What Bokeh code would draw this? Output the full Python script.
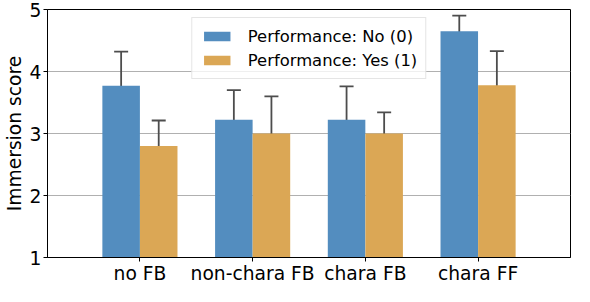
from bokeh.plotting import figure
from bokeh.models import ColumnDataSource, FactorRange, Whisker, TeeHead, Legend, LegendItem, FixedTicker
from bokeh.transform import dodge
from bokeh.embed import file_html
from bokeh.resources import INLINE

categories = ["no FB", "non-chara FB", "chara FB", "chara FF"]
perf_no = [3.77, 3.22, 3.22, 4.65]
perf_no_lower = [3.23, 2.73, 2.67, 4.40]
perf_no_upper = [4.32, 3.70, 3.76, 4.90]
perf_yes = [2.80, 3.00, 3.00, 3.78]
perf_yes_lower = [2.38, 2.39, 2.64, 3.25]
perf_yes_upper = [3.21, 3.60, 3.34, 4.33]
series_labels = ["Performance: No (0)", "Performance: Yes (1)"]
y_ticks = [1, 2, 3, 4, 5]

BLUE = "#538dbf"
ORANGE = "#dba755"
ERR = "#4d4d4d"
FONT = "DejaVu Sans"

src = ColumnDataSource(dict(cat=categories, no=perf_no, no_lo=perf_no_lower, no_hi=perf_no_upper,
                            yes=perf_yes, yes_lo=perf_yes_lower, yes_hi=perf_yes_upper))

p = figure(width=574, height=286, x_range=FactorRange(*categories, range_padding=0.32, range_padding_units="absolute"),
           y_range=(1, 5), output_backend="svg", toolbar_location=None,
           min_border_left=0, min_border_right=4, min_border_top=9, min_border_bottom=0)

r1 = p.vbar(x=dodge("cat", -0.1667, range=p.x_range), top="no", bottom=1, width=0.333, source=src,
            fill_color=BLUE, line_color=None)
r2 = p.vbar(x=dodge("cat", 0.1667, range=p.x_range), top="yes", bottom=1, width=0.333, source=src,
            fill_color=ORANGE, line_color=None)

for off, lo, hi in [(-0.1667, "no_lo", "no_hi"), (0.1667, "yes_lo", "yes_hi")]:
    w = Whisker(base=dodge("cat", off, range=p.x_range), lower=lo, upper=hi, source=src,
                line_color=ERR, line_width=1.8,
                upper_head=TeeHead(size=14, line_color=ERR, line_width=1.8),
                lower_head=TeeHead(size=14, line_color=ERR, line_width=1.8))
    p.add_layout(w)

p.xgrid.grid_line_color = None
p.ygrid.grid_line_color = "#b0b0b0"
p.ygrid.grid_line_width = 1
p.yaxis.ticker = FixedTicker(ticks=y_ticks)
p.yaxis.axis_label = "Immersion score"
p.yaxis.axis_label_text_font = FONT
p.yaxis.axis_label_text_font_style = "normal"
p.yaxis.axis_label_text_font_size = "18.7px"
p.yaxis.axis_label_text_color = "black"
p.yaxis.axis_label_standoff = 2
for ax in (p.xaxis, p.yaxis):
    ax.major_label_text_font = FONT
    ax.major_label_text_font_size = "18.7px"
    ax.major_label_text_color = "black"
    ax.axis_line_color = "black"
    ax.major_tick_line_color = "black"
    ax.major_tick_out = 4
    ax.major_tick_in = 0
    ax.minor_tick_line_color = None
p.yaxis.major_label_standoff = 2
p.xaxis.major_label_standoff = 1
p.xaxis.group_text_font_size = "0px"
p.outline_line_color = "black"
p.outline_line_width = 1
p.outline_line_alpha = 1

legend = Legend(items=[LegendItem(label=series_labels[0], renderers=[r1]),
                       LegendItem(label=series_labels[1], renderers=[r2])],
                location="top_center", margin=8, padding=8, spacing=4,
                glyph_width=33, glyph_height=12, label_height=20, label_standoff=15,
                label_text_font=FONT, label_text_font_size="16.4px", label_text_color="black",
                border_line_color="#cccccc", border_line_width=1, background_fill_alpha=0.8)
p.add_layout(legend)

open("out.html", "w").write(file_html(p, INLINE))
